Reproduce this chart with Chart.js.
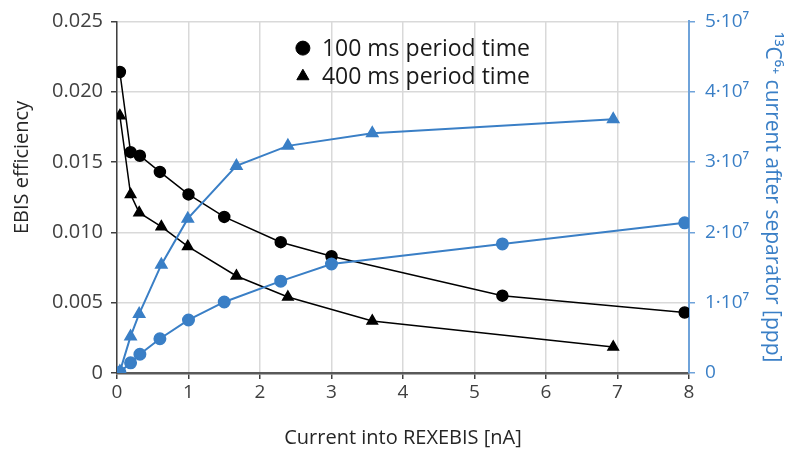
<!DOCTYPE html>
<html>
<head>
<meta charset="utf-8">
<script src="https://cdn.jsdelivr.net/npm/chart.js@4/dist/chart.umd.min.js"></script>
<style>
  body { margin: 0; background: #fff; }
  canvas { display: block; }
</style>
</head>
<body>
<canvas id="myChart" width="792" height="453"></canvas>
<script>
const current100 = [0.04, 0.19, 0.32, 0.60, 1.00, 1.50, 2.29, 3.00, 5.39, 7.94];
const eff100 = [0.0214, 0.0157, 0.01545, 0.0143, 0.0127, 0.0111, 0.0093, 0.0083, 0.0055, 0.0043];
const ion100 = [0.01e7, 0.145e7, 0.267e7, 0.487e7, 0.754e7, 1.01e7, 1.306e7, 1.55e7, 1.836e7, 2.135e7];

const current400 = [0.04, 0.19, 0.31, 0.62, 0.99, 1.67, 2.39, 3.57, 6.94];
const eff400 = [0.0183, 0.0127, 0.0114, 0.0104, 0.0090, 0.0069, 0.0054, 0.0037, 0.00185];
const ion400 = [0.02e7, 0.52e7, 0.84e7, 1.54e7, 2.195e7, 2.945e7, 3.23e7, 3.41e7, 3.61e7];

const legendLabels = ['100 ms period time', '400 ms period time'];
const xTitle = 'Current into REXEBIS [nA]';
const leftTitle = 'EBIS efficiency';
const rightTitle = '\u00B9\u00B3C\u2076\u207A current after separator [ppp]';

const BLUE = '#3a7fc6';
const FONT = '"Open Sans", sans-serif';

function toPoints(xs, ys) {
  return xs.map((x, i) => ({ x: x, y: ys[i] }));
}

// 차트 안쪽 범례 + 왼쪽 축 제목 (원본처럼 약간 위쪽)
const insideLegend = {
  id: 'insideLegend',
  afterDraw(chart) {
    const ctx = chart.ctx;
    const xs = chart.scales.x;
    const ys = chart.scales.y;
    const styles = ['circle', 'triangle'];
    const rows = [0.0231, 0.0211];
    ctx.save();
    ctx.font = '23px ' + FONT;
    ctx.textBaseline = 'middle';
    legendLabels.forEach((text, i) => {
      const px = xs.getPixelForValue(2.6);
      const py = ys.getPixelForValue(rows[i]);
      ctx.fillStyle = '#000';
      ctx.strokeStyle = '#000';
      Chart.helpers.drawPoint(ctx, { pointStyle: styles[i], radius: 7, borderWidth: 1 }, px, py);
      ctx.fillStyle = '#1a1a1a';
      ctx.fillText(text, px + 19, py + 1);
    });

    // 왼쪽 축 제목
    ctx.translate(ys.left + 22, chart.chartArea.top + 146);
    ctx.rotate(-Math.PI / 2);
    ctx.font = '20px ' + FONT;
    ctx.textAlign = 'center';
    ctx.fillStyle = '#262626';
    ctx.fillText(leftTitle, 0, 0);
    ctx.restore();
  }
};

const ctx = document.getElementById('myChart').getContext('2d');
const chart = new Chart(ctx, {
  type: 'scatter',
  data: {
    datasets: [
      {
        label: legendLabels[0],
        data: toPoints(current100, eff100),
        yAxisID: 'y',
        showLine: true,
        borderColor: '#000',
        backgroundColor: '#000',
        borderWidth: 1.5,
        pointStyle: 'circle',
        pointRadius: 5.5,
        order: 2
      },
      {
        label: legendLabels[1],
        data: toPoints(current400, eff400),
        yAxisID: 'y',
        showLine: true,
        borderColor: '#000',
        backgroundColor: '#000',
        borderWidth: 1.5,
        pointStyle: 'triangle',
        pointRadius: 6,
        order: 2
      },
      {
        label: '100 ms ion current',
        data: toPoints(current100, ion100),
        yAxisID: 'y2',
        showLine: true,
        borderColor: BLUE,
        backgroundColor: BLUE,
        borderWidth: 2,
        pointStyle: 'circle',
        pointRadius: 5.5,
        order: 1
      },
      {
        label: '400 ms ion current',
        data: toPoints(current400, ion400),
        yAxisID: 'y2',
        showLine: true,
        borderColor: BLUE,
        backgroundColor: BLUE,
        borderWidth: 2,
        pointStyle: 'triangle',
        pointRadius: 6,
        order: 1
      }
    ]
  },
  options: {
    responsive: false,
    animation: false,
    layout: { padding: { top: 17, left: 0, right: 0, bottom: 0 } },
    plugins: {
      legend: { display: false },
      tooltip: { enabled: false }
    },
    scales: {
      x: {
        type: 'linear',
        min: 0,
        max: 8,
        ticks: {
          stepSize: 1,
          color: '#404040',
          padding: 2,
          font: { family: FONT, size: 19 }
        },
        grid: { color: '#d9d9d9', lineWidth: 1.5, tickLength: 6, tickColor: '#404040' },
        border: { color: '#595959', width: 2.5 },
        title: {
          display: true,
          text: xTitle,
          color: '#262626',
          padding: { top: 0, bottom: 3 },
          font: { family: FONT, size: 20 }
        },
        afterFit(scale) { scale.height = 80; }
      },
      y: {
        type: 'linear',
        position: 'left',
        min: 0,
        max: 0.025,
        ticks: {
          stepSize: 0.005,
          color: '#404040',
          padding: 8,
          font: { family: FONT, size: 20 },
          callback: v => v === 0 ? '0' : v.toFixed(3)
        },
        grid: { color: '#d9d9d9', lineWidth: 1.5, tickLength: 6, tickColor: '#404040' },
        border: { color: '#404040', width: 1.5 },
        title: { display: false },
        afterFit(scale) { scale.width = 117; }
      },
      y2: {
        type: 'linear',
        position: 'right',
        min: 0,
        max: 5e7,
        ticks: {
          stepSize: 1e7,
          color: BLUE,
          padding: 10,
          font: { family: FONT, size: 19 },
          callback: v => v === 0 ? '0' : Math.round(v / 1e7) + '\u00B710\u2077'
        },
        grid: { drawOnChartArea: false, tickLength: 6, tickColor: '#6fa3da', lineWidth: 1.5 },
        border: { color: '#6fa3da', width: 2 },
        title: {
          display: true,
          text: rightTitle,
          color: BLUE,
          padding: { top: 7, bottom: 0 },
          font: { family: FONT, size: 21 }
        },
        afterFit(scale) { scale.width = 103; }
      }
    }
  },
  plugins: [insideLegend]
});
</script>
</body>
</html>
